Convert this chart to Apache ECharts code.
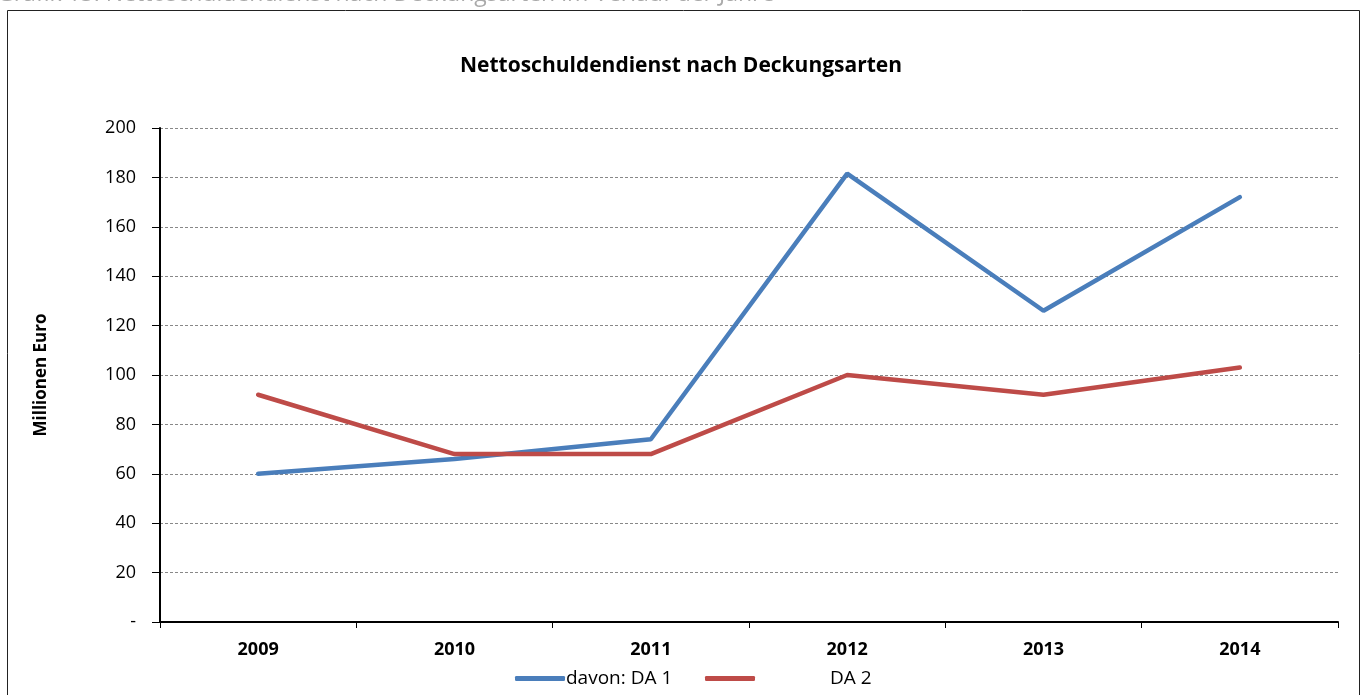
<!DOCTYPE html>
<html>
<head>
<meta charset="utf-8">
<script src="https://cdn.jsdelivr.net/npm/echarts@6/dist/echarts.min.js"></script>
<style>
  html, body { margin: 0; padding: 0; background: #fff; }
  #chart { width: 1362px; height: 695px; }
</style>
</head>
<body>
<div id="chart"></div>
<script>
// Daten
var jahre = ['2009', '2010', '2011', '2012', '2013', '2014'];
var da1 = [60, 66, 74, 181.5, 126, 172];
var da2 = [92, 68, 68, 100, 92, 103];
var yTicks = [0, 20, 40, 60, 80, 100, 120, 140, 160, 180, 200];

var schrift = '"Open Sans", "Liberation Sans", sans-serif';

var myChart = echarts.init(document.getElementById('chart'));
var option = {
    backgroundColor: '#fff',
    animation: false,
    title: {
        text: 'Nettoschuldendienst nach Deckungsarten',
        left: 'center',
        top: 51,
        textStyle: { fontFamily: schrift, fontSize: 21, fontWeight: 'bold', color: '#000' }
    },
    graphic: [
        {
            type: 'text',
            left: -3,
            top: -17,
            style: {
                text: 'Grafik 13: Nettoschuldendienst nach Deckungsarten im Verlauf der Jahre',
                fill: '#aaa',
                font: '23px ' + schrift
            }
        },
        {
            type: 'rect',
            shape: { x: 7.5, y: 10.5, width: 1352, height: 700 },
            style: { fill: 'none', stroke: '#222', lineWidth: 1 },
            silent: true
        }
    ],
    legend: [
        {
            data: ['davon: DA 1'],
            left: 510,
            top: 664,
            icon: 'roundRect',
            itemWidth: 50,
            itemHeight: 5,
            textStyle: { fontFamily: schrift, fontSize: 19, color: '#000', padding: [0, 0, 0, -4] }
        },
        {
            data: ['DA 2'],
            left: 700,
            top: 664,
            icon: 'roundRect',
            itemWidth: 50,
            itemHeight: 5,
            textStyle: { fontFamily: schrift, fontSize: 19, color: '#000', padding: [0, 0, 0, 70] }
        }
    ],
    grid: { left: 160, right: 24, top: 128, bottom: 73 },
    xAxis: {
        type: 'category',
        data: jahre,
        boundaryGap: true,
        axisLine: { lineStyle: { color: '#000', width: 2 } },
        axisTick: { show: true, length: 6, lineStyle: { color: '#000' } },
        axisLabel: { fontFamily: schrift, fontSize: 18, fontWeight: 'bold', color: '#000', margin: 19 }
    },
    yAxis: {
        type: 'value',
        name: 'Millionen Euro',
        nameLocation: 'middle',
        nameGap: 110,
        nameTextStyle: { fontFamily: schrift, fontSize: 17, fontWeight: 'bold', color: '#000' },
        min: yTicks[0],
        max: yTicks[yTicks.length - 1],
        interval: 20,
        axisLine: { show: true, lineStyle: { color: '#000', width: 2 } },
        axisTick: { show: true, length: 8, lineStyle: { color: '#000' } },
        axisLabel: {
            fontFamily: schrift, fontSize: 18, color: '#000', margin: 24,
            formatter: function (v) { return v === 0 ? '-' : v; }
        },
        splitLine: { show: true, lineStyle: { color: '#888', type: [3, 2], width: 1 } }
    },
    series: [
        {
            name: 'davon: DA 1',
            type: 'line',
            data: da1,
            symbol: 'none',
            lineStyle: { color: '#4a7ebb', width: 4.5, cap: 'round' },
            itemStyle: { color: '#4a7ebb' }
        },
        {
            name: 'DA 2',
            type: 'line',
            data: da2,
            symbol: 'none',
            lineStyle: { color: '#be4b48', width: 4.5, cap: 'round' },
            itemStyle: { color: '#be4b48' }
        }
    ]
};
myChart.setOption(option);
</script>
</body>
</html>
